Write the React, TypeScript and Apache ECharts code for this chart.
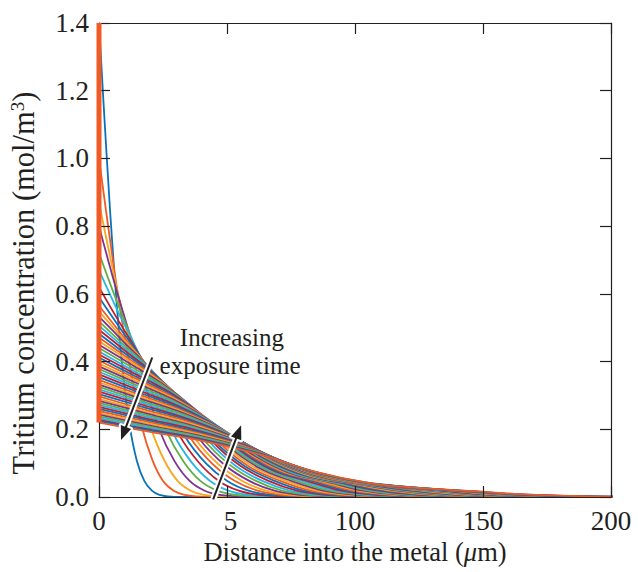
import React, { useEffect, useRef } from "react";
import * as echarts from "echarts";

const xTicks = [0, 50, 100, 150, 200];
const xTickLabels = ["0", "5", "100", "150", "200"];
const yTicks = [0, 0.2, 0.4, 0.6, 0.8, 1.0, 1.2, 1.4];
const yTickLabels = ["0.0", "0.2", "0.4", "0.6", "0.8", "1.0", "1.2", "1.4"];

const curveColors = ["#0a72ba", "#f05a24", "#f7a71c", "#7d3292", "#62ae44", "#29b5e6", "#bc2031"];

// depth (µm) of the points read along each profile, one row per exposure time
const profileDepth: number[][] = [
  [0, 2.95, 5.9, 8.85, 11.8, 14.75, 17.7, 20.65, 23.6, 28.3, 33, 200],
  [0, 4.2, 8.3, 12.5, 16.7, 20.9, 25, 29.2, 33.4, 40.1, 46.7, 200],
  [0, 5.1, 10.2, 15.3, 20.4, 25.6, 30.7, 35.8, 40.9, 49.1, 57.2, 200],
  [0, 5.9, 11.8, 17.7, 23.6, 29.5, 35.4, 41.3, 47.2, 56.6, 66.1, 200],
  [0, 6.6, 13.2, 19.8, 26.4, 33, 39.6, 46.2, 52.8, 63.3, 73.9, 200],
  [0, 7.2, 14.5, 21.7, 28.9, 36.1, 43.4, 50.6, 57.8, 69.4, 80.9, 200],
  [0, 7.8, 15.6, 23.4, 31.2, 39, 46.8, 54.6, 62.4, 74.9, 87.4, 200],
  [0, 8.3, 16.7, 25, 33.4, 41.7, 50.1, 58.4, 66.7, 80.1, 93.4, 200],
  [0, 8.9, 17.7, 26.6, 35.4, 44.3, 53.1, 62, 70.8, 85, 99.1, 200],
  [0, 9.3, 18.7, 28, 37.3, 46.6, 56, 65.3, 74.6, 89.5, 104.5, 200],
  [0, 9.8, 19.6, 29.4, 39.1, 48.9, 58.7, 68.5, 78.3, 93.9, 109.6, 200],
  [0, 10.2, 20.4, 30.7, 40.9, 51.1, 61.3, 71.5, 81.8, 98.1, 114.5, 200],
  [0, 10.6, 21.3, 31.9, 42.6, 53.2, 63.8, 74.5, 85.1, 102.1, 119.1, 200],
  [0, 11, 22.1, 33.1, 44.2, 55.2, 66.2, 77.3, 88.3, 106, 123.6, 200],
  [0, 11.4, 22.9, 34.3, 45.7, 57.1, 68.6, 80, 91.4, 109.7, 128, 200],
  [0, 11.8, 23.6, 35.4, 47.2, 59, 70.8, 82.6, 94.4, 113.3, 132.2, 200],
  [0, 12.2, 24.3, 36.5, 48.7, 60.8, 73, 85.1, 97.3, 116.8, 136.2, 200],
  [0, 12.5, 25, 37.6, 50.1, 62.6, 75.1, 87.6, 100.1, 120.2, 140.2, 200],
  [0, 12.9, 25.7, 38.6, 51.4, 64.3, 77.2, 90, 102.9, 123.5, 144, 200],
  [0, 13.2, 26.4, 39.6, 52.8, 66, 79.2, 92.3, 105.5, 126.6, 147.8, 200],
  [0, 13.5, 27, 40.6, 54.1, 67.6, 81.1, 94.6, 108.2, 129.8, 151.4, 200],
  [0, 13.8, 27.7, 41.5, 55.3, 69.2, 83, 96.8, 110.7, 132.8, 155, 200],
  [0, 14.1, 28.3, 42.4, 56.6, 70.7, 84.9, 99, 113.2, 135.8, 158.5, 200],
  [0, 14.5, 28.9, 43.4, 57.8, 72.3, 86.7, 101.2, 115.6, 138.7, 161.9, 200],
  [0, 14.8, 29.5, 44.3, 59, 73.8, 88.5, 103.3, 118, 141.6, 165.2, 200],
  [0, 15, 30.1, 45.1, 60.2, 75.2, 90.3, 105.3, 120.3, 144.4, 168.5, 200],
  [0, 15.3, 30.7, 46, 61.3, 76.6, 92, 107.3, 122.6, 147.1, 171.7, 200],
  [0, 15.6, 31.2, 46.8, 62.5, 78.1, 93.7, 109.3, 124.9, 149.9, 174.9, 200],
  [0, 15.9, 31.8, 47.7, 63.5, 79.4, 95.3, 111.2, 127.1, 152.5, 177.9, 200],
  [0, 16.2, 32.3, 48.5, 64.6, 80.8, 96.9, 113.1, 129.3, 155.1, 181, 200],
  [0, 16.4, 32.9, 49.3, 65.7, 82.1, 98.6, 115, 131.4, 157.7, 184, 200],
  [0, 16.7, 33.4, 50.1, 66.8, 83.4, 100.1, 116.8, 133.5, 160.2, 186.9, 200],
  [0, 16.9, 33.9, 50.8, 67.8, 84.7, 101.7, 118.6, 135.6, 162.7, 189.8, 200],
  [0, 17.2, 34.4, 51.6, 68.8, 86, 103.2, 120.4, 137.6, 165.1, 192.7, 200],
  [0, 17.5, 34.9, 52.4, 69.8, 87.3, 104.7, 122.2, 139.6, 167.5, 195.5, 200],
  [0, 17.7, 35.4, 53.1, 70.8, 88.5, 106.2, 123.9, 141.6, 169.9, 198.2, 200],
  [0, 17.9, 35.9, 53.8, 71.8, 89.7, 107.7, 125.6, 143.6, 172.3, 201],
  [0, 18.2, 36.4, 54.6, 72.7, 90.9, 109.1, 127.3, 145.5, 174.6, 203.7],
  [0, 18.4, 36.8, 55.3, 73.7, 92.1, 110.5, 129, 147.4, 176.9, 206.3],
  [0, 18.7, 37.3, 56, 74.6, 93.3, 112, 130.6, 149.3, 179.1, 209],
  [0, 18.9, 37.8, 56.7, 75.6, 94.5, 113.3, 132.2, 151.1, 181.3, 211.6],
  [0, 19.1, 38.2, 57.4, 76.5, 95.6, 114.7, 133.8, 153, 183.6, 214.1],
  [0, 19.3, 38.7, 58, 77.4, 96.7, 116.1, 135.4, 154.7, 185.7, 216.6],
  [0, 19.6, 39.1, 58.7, 78.3, 97.8, 117.4, 137, 156.5, 187.8, 219.2],
  [0, 19.8, 39.6, 59.4, 79.2, 98.9, 118.7, 138.5, 158.3, 190, 221.6],
  [0, 20, 40, 60, 80, 100, 120, 140.1, 160.1, 192.1, 224.1],
  [0, 20.2, 40.5, 60.7, 80.9, 101.1, 121.4, 141.6, 161.8, 194.2, 226.5],
  [0, 20.4, 40.9, 61.3, 81.8, 102.2, 122.6, 143.1, 163.5, 196.2, 228.9],
  [0, 20.7, 41.3, 62, 82.6, 103.3, 123.9, 144.6, 165.2, 198.2, 231.3],
  [0, 20.9, 41.7, 62.6, 83.4, 104.3, 125.2, 146, 166.9, 200.3, 233.6],
  [0, 21.1, 42.1, 63.2, 84.3, 105.3, 126.4, 147.5, 168.5, 202.2, 235.9],
];

// tritium concentration (mol/m3) at those depths, same rows
const profileConc: number[][] = [
  [1.4, 1.013, 0.671, 0.404, 0.22, 0.108, 0.0475, 0.0186, 0.0066, 0.001, 0, 0],
  [1.0, 0.765, 0.552, 0.368, 0.209, 0.108, 0.0475, 0.0186, 0.0066, 0.001, 0, 0],
  [0.87, 0.682, 0.51, 0.352, 0.202, 0.107, 0.0475, 0.0186, 0.0066, 0.001, 0, 0],
  [0.8, 0.636, 0.486, 0.341, 0.198, 0.106, 0.0475, 0.0186, 0.0066, 0.001, 0, 0],
  [0.72, 0.585, 0.46, 0.331, 0.194, 0.105, 0.0475, 0.0186, 0.0066, 0.001, 0, 0],
  [0.67, 0.551, 0.44, 0.322, 0.189, 0.103, 0.0475, 0.0186, 0.0066, 0.001, 0, 0],
  [0.62, 0.518, 0.422, 0.313, 0.185, 0.102, 0.0475, 0.0186, 0.0066, 0.001, 0, 0],
  [0.59, 0.498, 0.409, 0.306, 0.181, 0.1, 0.0475, 0.0186, 0.0066, 0.001, 0, 0],
  [0.565, 0.48, 0.397, 0.3, 0.178, 0.098, 0.0475, 0.0186, 0.0066, 0.001, 0, 0],
  [0.548, 0.468, 0.39, 0.295, 0.175, 0.097, 0.0475, 0.0186, 0.0066, 0.001, 0, 0],
  [0.533, 0.457, 0.382, 0.29, 0.173, 0.096, 0.0475, 0.0186, 0.0066, 0.001, 0, 0],
  [0.519, 0.446, 0.375, 0.286, 0.17, 0.095, 0.0475, 0.0186, 0.0066, 0.001, 0, 0],
  [0.506, 0.436, 0.368, 0.281, 0.168, 0.093, 0.0475, 0.0186, 0.0066, 0.001, 0, 0],
  [0.494, 0.427, 0.36, 0.276, 0.165, 0.092, 0.0475, 0.0186, 0.0066, 0.001, 0, 0],
  [0.482, 0.417, 0.353, 0.271, 0.161, 0.09, 0.0475, 0.0186, 0.0066, 0.001, 0, 0],
  [0.471, 0.408, 0.346, 0.266, 0.159, 0.088, 0.0475, 0.0186, 0.0066, 0.001, 0, 0],
  [0.46, 0.4, 0.34, 0.262, 0.156, 0.087, 0.0475, 0.0186, 0.0066, 0.001, 0, 0],
  [0.45, 0.392, 0.333, 0.257, 0.153, 0.086, 0.0475, 0.0186, 0.0066, 0.001, 0, 0],
  [0.44, 0.383, 0.326, 0.251, 0.15, 0.084, 0.0475, 0.0186, 0.0066, 0.001, 0, 0],
  [0.43, 0.374, 0.318, 0.245, 0.146, 0.082, 0.0475, 0.0186, 0.0066, 0.001, 0, 0],
  [0.421, 0.366, 0.312, 0.24, 0.143, 0.08, 0.0475, 0.0186, 0.0066, 0.001, 0, 0],
  [0.412, 0.358, 0.305, 0.235, 0.14, 0.078, 0.0475, 0.0186, 0.0066, 0.001, 0, 0],
  [0.403, 0.351, 0.298, 0.23, 0.137, 0.077, 0.0475, 0.0186, 0.0066, 0.001, 0, 0],
  [0.394, 0.343, 0.292, 0.225, 0.134, 0.075, 0.047, 0.0186, 0.0066, 0.001, 0, 0],
  [0.386, 0.336, 0.286, 0.22, 0.131, 0.073, 0.046, 0.0186, 0.0066, 0.001, 0, 0],
  [0.378, 0.329, 0.28, 0.215, 0.129, 0.072, 0.045, 0.0186, 0.0066, 0.001, 0, 0],
  [0.37, 0.322, 0.274, 0.211, 0.126, 0.07, 0.044, 0.0186, 0.0066, 0.001, 0, 0],
  [0.362, 0.315, 0.268, 0.206, 0.123, 0.069, 0.043, 0.0186, 0.0066, 0.001, 0, 0],
  [0.354, 0.308, 0.262, 0.202, 0.12, 0.067, 0.042, 0.0186, 0.0066, 0.001, 0, 0],
  [0.346, 0.301, 0.256, 0.197, 0.118, 0.066, 0.042, 0.0186, 0.0066, 0.001, 0, 0],
  [0.339, 0.295, 0.251, 0.193, 0.115, 0.064, 0.041, 0.0186, 0.0066, 0.001, 0, 0],
  [0.332, 0.289, 0.246, 0.189, 0.113, 0.063, 0.04, 0.0186, 0.0066, 0.001, 0, 0],
  [0.325, 0.283, 0.241, 0.185, 0.111, 0.062, 0.039, 0.0186, 0.0066, 0.001, 0, 0],
  [0.318, 0.277, 0.235, 0.181, 0.108, 0.06, 0.038, 0.0186, 0.0066, 0.001, 0, 0],
  [0.311, 0.271, 0.23, 0.177, 0.106, 0.059, 0.037, 0.0186, 0.0066, 0.001, 0, 0],
  [0.304, 0.265, 0.225, 0.173, 0.103, 0.058, 0.037, 0.0186, 0.0066, 0.001, 0, 0],
  [0.297, 0.258, 0.22, 0.169, 0.101, 0.056, 0.036, 0.0186, 0.0066, 0.001, 0],
  [0.29, 0.252, 0.215, 0.165, 0.099, 0.055, 0.035, 0.0186, 0.0066, 0.001, 0],
  [0.284, 0.247, 0.21, 0.162, 0.097, 0.054, 0.034, 0.0186, 0.0066, 0.001, 0],
  [0.278, 0.242, 0.206, 0.158, 0.095, 0.053, 0.033, 0.0186, 0.0066, 0.001, 0],
  [0.272, 0.237, 0.201, 0.155, 0.092, 0.052, 0.033, 0.0186, 0.0066, 0.001, 0],
  [0.266, 0.231, 0.197, 0.152, 0.09, 0.051, 0.032, 0.0186, 0.0066, 0.001, 0],
  [0.26, 0.226, 0.192, 0.148, 0.088, 0.049, 0.031, 0.0186, 0.0066, 0.001, 0],
  [0.254, 0.221, 0.188, 0.145, 0.086, 0.048, 0.031, 0.0186, 0.0066, 0.001, 0],
  [0.248, 0.216, 0.184, 0.141, 0.084, 0.047, 0.03, 0.0186, 0.0066, 0.001, 0],
  [0.243, 0.211, 0.18, 0.139, 0.083, 0.046, 0.029, 0.018, 0.0066, 0.001, 0],
  [0.238, 0.207, 0.176, 0.136, 0.081, 0.045, 0.029, 0.018, 0.0066, 0.001, 0],
  [0.233, 0.203, 0.172, 0.133, 0.079, 0.044, 0.028, 0.0175, 0.0066, 0.001, 0],
  [0.228, 0.198, 0.169, 0.13, 0.078, 0.043, 0.027, 0.017, 0.0066, 0.001, 0],
  [0.224, 0.195, 0.166, 0.128, 0.076, 0.043, 0.027, 0.017, 0.0066, 0.001, 0],
  [0.22, 0.191, 0.163, 0.125, 0.075, 0.042, 0.026, 0.0165, 0.007, 0.001, 0],
];

// fixed surface concentration drawn along x = 0
const boundaryDepth = [0, 0];
const boundaryConc = [0.22, 1.4];

// annotation (data coordinates)
const noteLines = ["Increasing", "exposure time"];
const noteAnchors = [
  [51.9, 0.471],
  [51.2, 0.388],
];
const arrowTails = [
  [20.8, 0.412],
  [44.6, -0.007],
];
const arrowHeads = [
  [8.6, 0.168],
  [55.5, 0.212],
];

const ink = "#231f20";
const serif = "Liberation Serif";

export default function App() {
  const ref = useRef<HTMLDivElement>(null);

  useEffect(() => {
    if (!ref.current) return;
    const chart = echarts.init(ref.current, undefined, { renderer: "svg" });

    const axisBase = {
      type: "value" as const,
      z: 3,
      splitLine: { show: false },
      axisLine: { show: true, onZero: false, lineStyle: { color: ink, width: 1.2 } },
      axisTick: { show: true, inside: true, length: 11, lineStyle: { color: ink, width: 1.2 } },
    };

    const series: any[] = profileConc.map((conc, i) => ({
      type: "line",
      data: conc.map((c, k) => [profileDepth[i][k], c]),
      showSymbol: false,
      smooth: 0.35,
      clip: true,
      silent: true,
      z: 2,
      lineStyle: { width: 1.8, color: curveColors[i % curveColors.length] },
      itemStyle: { color: curveColors[i % curveColors.length] },
    }));
    series.push({
      type: "line",
      data: boundaryConc.map((c, k) => [boundaryDepth[k], c]),
      showSymbol: false,
      clip: true,
      silent: true,
      z: 4,
      lineStyle: { width: 5, color: curveColors[1] },
      itemStyle: { color: curveColors[1] },
    });

    chart.setOption({
      animation: false,
      backgroundColor: "#ffffff",
      grid: { left: 99, right: 27, top: 23, bottom: 75, containLabel: false },
      xAxis: [
        {
          ...axisBase,
          position: "bottom",
          min: xTicks[0],
          max: xTicks[xTicks.length - 1],
          interval: xTicks[1] - xTicks[0],
          axisLabel: {
            margin: 10,
            fontFamily: serif,
            fontSize: 27,
            color: ink,
            formatter: (v: number) => {
              const idx = xTicks.indexOf(v);
              const t = idx >= 0 ? xTickLabels[idx] : "";
              return idx === 1 ? `{s|${t}}` : t;
            },
            rich: { s: { padding: [0, 0, 0, 7], fontFamily: serif, fontSize: 27, color: ink } },
          },
          name: "Distance into the metal ({it|μ}m)",
          nameLocation: "middle",
          nameGap: 40,
          nameTextStyle: {
            fontFamily: serif,
            fontSize: 26.5,
            color: ink,
            rich: { it: { fontStyle: "italic", fontFamily: serif, fontSize: 26.5, color: ink } },
          },
        },
        {
          ...axisBase,
          position: "top",
          min: xTicks[0],
          max: xTicks[xTicks.length - 1],
          interval: xTicks[1] - xTicks[0],
          axisLabel: { show: false },
        },
      ],
      yAxis: [
        {
          ...axisBase,
          position: "left",
          min: yTicks[0],
          max: yTicks[yTicks.length - 1],
          interval: 0.2,
          axisLabel: {
            margin: 10,
            fontFamily: serif,
            fontSize: 27,
            color: ink,
            formatter: (v: number) => yTickLabels[Math.round(v / 0.2)] ?? "",
          },
          name: "Tritium concentration (mol/m{sup|3})",
          nameLocation: "middle",
          nameGap: 60,
          nameTextStyle: {
            fontFamily: serif,
            fontSize: 30.5,
            color: ink,
            padding: [0, 46, 0, 0],
            rich: {
              sup: { fontFamily: serif, fontSize: 19, color: ink, verticalAlign: "top", padding: [0, 0, 10, 0] },
            },
          },
        },
        {
          ...axisBase,
          position: "right",
          min: yTicks[0],
          max: yTicks[yTicks.length - 1],
          interval: 0.2,
          axisLabel: { show: false },
        },
      ],
      series,
    });

    const toPx = (p: number[]) => chart.convertToPixel({ seriesIndex: 0 }, p) as number[];

    const graphics: any[] = [];
    noteLines.forEach((t, i) => {
      const [px, py] = toPx(noteAnchors[i]);
      graphics.push({
        type: "text",
        x: px,
        y: py,
        z: 20,
        style: { text: t, font: `25px "${serif}"`, fill: ink, align: "center", verticalAlign: "middle" },
      });
    });

    arrowTails.forEach((tail, i) => {
      const p0 = toPx(tail);
      const p1 = toPx(arrowHeads[i]);
      const dx = p1[0] - p0[0];
      const dy = p1[1] - p0[1];
      const len = Math.hypot(dx, dy);
      const ux = dx / len;
      const uy = dy / len;
      const headLen = 14;
      const headW = 5.5;
      const base = [p1[0] - ux * headLen, p1[1] - uy * headLen];
      const left = [base[0] - uy * headW, base[1] + ux * headW];
      const right = [base[0] + uy * headW, base[1] - ux * headW];
      graphics.push(
        {
          type: "line",
          z: 20,
          shape: { x1: p0[0], y1: p0[1], x2: base[0] + ux * 2, y2: base[1] + uy * 2 },
          style: { stroke: "#ffffff", lineWidth: 6 },
        },
        {
          type: "polygon",
          z: 20,
          shape: { points: [p1, left, right] },
          style: { fill: "#ffffff", stroke: "#ffffff", lineWidth: 4, lineJoin: "round" },
        },
        {
          type: "line",
          z: 21,
          shape: { x1: p0[0], y1: p0[1], x2: base[0] + ux * 2, y2: base[1] + uy * 2 },
          style: { stroke: ink, lineWidth: 2 },
        },
        {
          type: "polygon",
          z: 21,
          shape: { points: [p1, left, right] },
          style: { fill: ink },
        }
      );
    });

    chart.setOption({ graphic: graphics });

    return () => chart.dispose();
  }, []);

  return (
    <div
      ref={ref}
      style={{ position: "fixed", left: 0, top: 0, width: 638, height: 572, background: "#fff" }}
    />
  );
}
